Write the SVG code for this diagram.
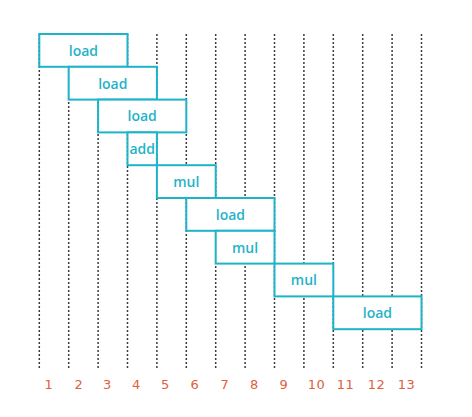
<svg xmlns="http://www.w3.org/2000/svg" width="472" height="417" viewBox="0 0 472 417">
  <style>
    .grid { stroke: #3c3c3c; stroke-width: 1.5; stroke-dasharray: 2 2; fill: none; }
    .op rect { fill: #ffffff; stroke: #1fb3c9; stroke-width: 2; }
    .op text { fill: #1fb3c9; font-family: "Open Sans", "DejaVu Sans", sans-serif; font-weight: 600; font-size: 14px; text-anchor: middle; }
    .tick { fill: #e0603c; font-family: "DejaVu Sans", "Liberation Sans", sans-serif; font-size: 13px; text-anchor: middle; letter-spacing: 0.5px; }
  </style>
  <rect width="472" height="417" fill="#ffffff"/>

  <!-- cycle boundaries -->
  <g id="connectors">
    <line class="grid" x1="39.3" y1="34" x2="39.3" y2="368"/>
    <line class="grid" x1="68.7" y1="34" x2="68.7" y2="368"/>
    <line class="grid" x1="98.1" y1="34" x2="98.1" y2="368"/>
    <line class="grid" x1="127.5" y1="34" x2="127.5" y2="368"/>
    <line class="grid" x1="156.9" y1="34" x2="156.9" y2="368"/>
    <line class="grid" x1="186.3" y1="34" x2="186.3" y2="368"/>
    <line class="grid" x1="215.7" y1="34" x2="215.7" y2="368"/>
    <line class="grid" x1="245.1" y1="34" x2="245.1" y2="368"/>
    <line class="grid" x1="274.5" y1="34" x2="274.5" y2="368"/>
    <line class="grid" x1="303.9" y1="34" x2="303.9" y2="368"/>
    <line class="grid" x1="333.3" y1="34" x2="333.3" y2="368"/>
    <line class="grid" x1="362.7" y1="34" x2="362.7" y2="368"/>
    <line class="grid" x1="392.1" y1="34" x2="392.1" y2="368"/>
    <line class="grid" x1="421.5" y1="34" x2="421.5" y2="368"/>
  </g>

  <!-- instructions -->
  <g id="op1" class="op"><rect x="39.3" y="34" width="88.2" height="32.8"/><text x="83.4" y="55.7">load</text></g>
  <g id="op2" class="op"><rect x="68.7" y="66.8" width="88.2" height="32.8"/><text x="112.8" y="88.5">load</text></g>
  <g id="op3" class="op"><rect x="98.1" y="99.6" width="88.2" height="32.8"/><text x="142.2" y="121.3">load</text></g>
  <g id="op4" class="op"><rect x="127.5" y="132.4" width="29.4" height="32.8"/><text x="142.2" y="154.1">add</text></g>
  <g id="op5" class="op"><rect x="156.9" y="165.2" width="58.8" height="32.8"/><text x="186.3" y="186.9">mul</text></g>
  <g id="op6" class="op"><rect x="186.3" y="198" width="88.2" height="32.8"/><text x="230.4" y="219.7">load</text></g>
  <g id="op7" class="op"><rect x="215.7" y="230.8" width="58.8" height="32.8"/><text x="245.1" y="252.5">mul</text></g>
  <g id="op8" class="op"><rect x="274.5" y="263.6" width="58.8" height="32.8"/><text x="303.9" y="285.3">mul</text></g>
  <g id="op9" class="op"><rect x="333.3" y="296.4" width="88.2" height="32.8"/><text x="377.4" y="318.1">load</text></g>

  <!-- cycle numbers -->
  <g id="axis">
    <text class="tick" x="49" y="389">1</text>
    <text class="tick" x="79" y="389">2</text>
    <text class="tick" x="107.5" y="389">3</text>
    <text class="tick" x="136.5" y="389">4</text>
    <text class="tick" x="165.5" y="389">5</text>
    <text class="tick" x="195" y="389">6</text>
    <text class="tick" x="225" y="389">7</text>
    <text class="tick" x="254.5" y="389">8</text>
    <text class="tick" x="284" y="389">9</text>
    <text class="tick" x="316.5" y="389">10</text>
    <text class="tick" x="345.5" y="389">11</text>
    <text class="tick" x="376.5" y="389">12</text>
    <text class="tick" x="406.5" y="389">13</text>
  </g>
</svg>
